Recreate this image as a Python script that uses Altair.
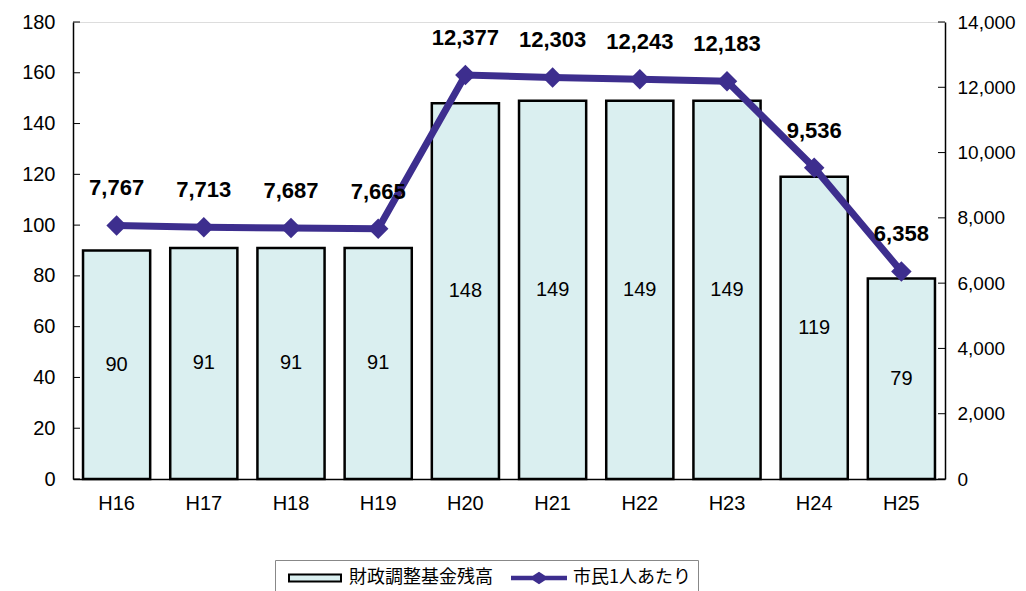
import altair as alt
import pandas as pd

years = ["H16", "H17", "H18", "H19", "H20", "H21", "H22", "H23", "H24", "H25"]
fund = [90, 91, 91, 91, 148, 149, 149, 149, 119, 79]
per_capita = [7767, 7713, 7687, 7665, 12377, 12303, 12243, 12183, 9536, 6358]
left_ticks = [0, 20, 40, 60, 80, 100, 120, 140, 160, 180]
right_ticks = [0, 2000, 4000, 6000, 8000, 10000, 12000, 14000]

BAR_NAME = "財政調整基金残高"
LINE_NAME = "市民1人あたり"
series_names = [BAR_NAME, LINE_NAME]
BAR_FILL = "#DAEFF0"
LINE_COLOR = "#3D2E8E"
NUM_FONT = "Liberation Sans"
JP_FONT = "Noto Sans CJK JP"

df = pd.DataFrame({"year": years, "fund": fund, "per_capita": per_capita})
df["pc_label"] = [f"{v:,}" for v in per_capita]
lt = pd.DataFrame({"v": left_ticks})
rt = pd.DataFrame({"v": right_ticks})
leg_df = pd.DataFrame({"series": series_names})

PW, PH = 872, 457

x_enc = alt.X(
    "year:N", sort=years,
    scale=alt.Scale(paddingInner=0.23, paddingOuter=0.115),
    axis=alt.Axis(title=None, labelAngle=0, ticks=False, domainColor="black",
                  domainWidth=1.5, labelFont=NUM_FONT, labelFontSize=20,
                  labelColor="black", labelPadding=14),
)

RECT = "M-2.0,-0.36H3.2V0.36H-2.0Z"
LINEP = "M-2.1,-0.12H0L0.6,-0.5L1.2,-0.12H3.3V0.12H1.2L0.6,0.5L0,0.12H-2.1Z"

legend = alt.Legend(
    title=None, orient="none", legendX=202, legendY=538, direction="horizontal",
    labelFont=JP_FONT, labelFontSize=18, labelColor="black",
    symbolSize=400, symbolOffset=16, labelOffset=29, columnPadding=13,
    symbolStrokeWidth=2, strokeColor="#888888", padding=7,
)

yl_scale = alt.Scale(domain=[0, 180], nice=False)
yl_axis = alt.Axis(title=None, values=left_ticks, ticks=False, grid=False,
                   domainColor="black", domainWidth=1.5, labelFont=NUM_FONT,
                   labelFontSize=20, labelColor="black", labelPadding=18)

bars = alt.Chart(df).mark_bar(
    stroke="black", strokeWidth=2.5, fill=BAR_FILL
).encode(
    x=x_enc,
    y=alt.Y("fund:Q", scale=yl_scale, axis=yl_axis),
)

bar_text = alt.Chart(df).transform_calculate(mid="datum.fund / 2").mark_text(
    font=NUM_FONT, fontSize=20, color="black"
).encode(x=x_enc, y=alt.Y("mid:Q", scale=yl_scale, axis=yl_axis), text="fund:Q")

left_tick_rules = alt.Chart(lt).mark_rule(color="black", strokeWidth=1).encode(
    y=alt.Y("v:Q", scale=yl_scale, axis=yl_axis), x=alt.value(0), x2=alt.value(7)
)

left = alt.layer(bars, bar_text, left_tick_rules)

yr_scale = alt.Scale(domain=[0, 14000], nice=False)
yr_axis = alt.Axis(title=None, orient="right", values=right_ticks, format=",.0f",
                   ticks=False, grid=False, domainColor="black", domainWidth=1.5,
                   labelFont=NUM_FONT, labelFontSize=19, labelColor="black",
                   labelPadding=12)

line = alt.Chart(df).mark_line(color=LINE_COLOR, strokeWidth=7).encode(
    x=x_enc, y=alt.Y("per_capita:Q", scale=yr_scale, axis=yr_axis)
)
points = alt.Chart(df).mark_point(
    shape="diamond", filled=True, size=420, opacity=1, color=LINE_COLOR
).encode(
    x=x_enc, y=alt.Y("per_capita:Q", scale=yr_scale, axis=yr_axis),
)
line_text = alt.Chart(df).mark_text(
    font=NUM_FONT, fontSize=22, fontWeight="bold", color="black", dy=-37
).encode(x=x_enc, y=alt.Y("per_capita:Q", scale=yr_scale, axis=yr_axis), text="pc_label:N")
right_tick_rules = alt.Chart(rt).mark_rule(color="black", strokeWidth=1).encode(
    y=alt.Y("v:Q", scale=yr_scale, axis=yr_axis), x=alt.value(PW - 7), x2=alt.value(PW)
)

# legend-only layer, drawn off-canvas
legend_layer = alt.Chart(leg_df).mark_point(filled=True, size=400, opacity=1).encode(
    x=alt.value(-2000), y=alt.value(-2000),
    color=alt.Color("series:N", scale=alt.Scale(domain=series_names, range=[BAR_FILL, LINE_COLOR]), legend=legend),
    shape=alt.Shape("series:N", scale=alt.Scale(domain=series_names, range=[RECT, LINEP]), legend=legend),
    stroke=alt.Stroke("series:N", scale=alt.Scale(domain=series_names, range=["black", LINE_COLOR]), legend=legend),
)

right = alt.layer(line, points, line_text, right_tick_rules)

chart = alt.layer(left, right, legend_layer).resolve_scale(y="independent").properties(
    width=PW, height=PH,
    padding={"left": 65, "top": 14, "right": 72, "bottom": 130},
    autosize=alt.AutoSizeParams(type="none"),
).configure_view(stroke=None).configure(background="white")

chart.save("out.html", embed_options={"renderer": "svg", "actions": False})
